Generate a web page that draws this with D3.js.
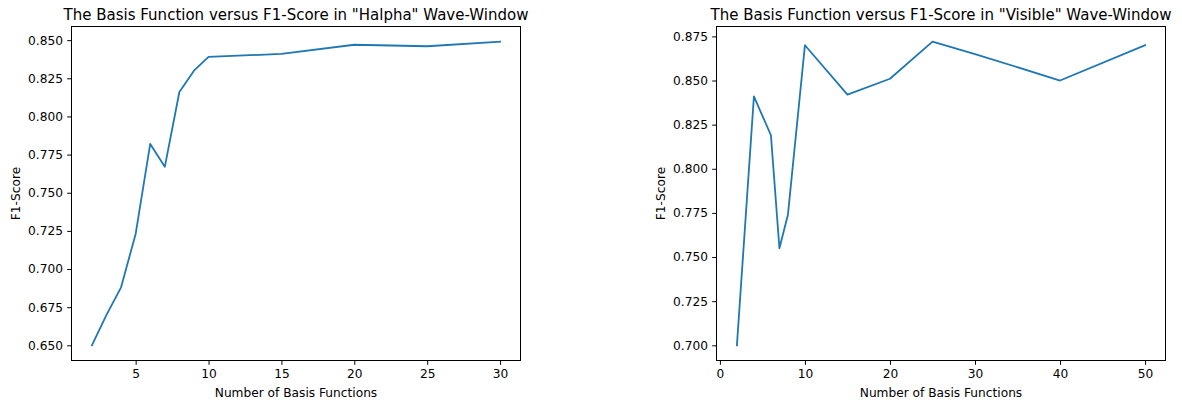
<!DOCTYPE html>
<html>
<head>
<meta charset="utf-8">
<script src="https://cdn.jsdelivr.net/npm/d3@7"></script>
<style>
  html, body { margin: 0; padding: 0; background: #fff; }
  svg { display: block; font-family: "DejaVu Sans", sans-serif; }
</style>
</head>
<body>
<svg id="fig" width="1182" height="400"></svg>
<script>
// Number of basis functions and resulting F1-scores, "Halpha" wave-window
const halphaBasis = [2, 3, 4, 5, 6, 7, 8, 9, 10, 15, 20, 25, 30];
const halphaF1 = [0.650, 0.670, 0.688, 0.723, 0.782, 0.767, 0.816, 0.830, 0.839, 0.841, 0.847, 0.846, 0.849];

// Number of basis functions and resulting F1-scores, "Visible" wave-window
const visibleBasis = [2, 4, 6, 7, 8, 10, 15, 20, 25, 30, 40, 50];
const visibleF1 = [0.700, 0.841, 0.819, 0.755, 0.774, 0.870, 0.842, 0.851, 0.872, 0.865, 0.850, 0.870];

// Tick values
const halphaXTicks = [5, 10, 15, 20, 25, 30];
const halphaYTicks = [0.650, 0.675, 0.700, 0.725, 0.750, 0.775, 0.800, 0.825, 0.850];
const visibleXTicks = [0, 10, 20, 30, 40, 50];
const visibleYTicks = [0.700, 0.725, 0.750, 0.775, 0.800, 0.825, 0.850, 0.875];

const titles = [
  'The Basis Function versus F1-Score in "Halpha" Wave-Window',
  'The Basis Function versus F1-Score in "Visible" Wave-Window'
];
const xLabel = "Number of Basis Functions";
const yLabel = "F1-Score";

const svg = d3.select("#fig");
const lineColor = "#1f77b4";
const tickFont = 12.2;
const titleFont = 15;

// Pad a data extent by 5% on each side
function padded(values) {
  const [lo, hi] = d3.extent(values);
  const m = (hi - lo) * 0.05;
  return [lo - m, hi + m];
}

function panel(box, xs, ys, xTicks, yTicks, title) {
  const x = d3.scaleLinear().domain(padded(xs)).range([box.x0, box.x1]);
  const y = d3.scaleLinear().domain(padded(ys)).range([box.y1, box.y0]);
  const g = svg.append("g");

  const xAxis = d3.axisBottom(x).tickValues(xTicks).tickFormat(d3.format("d"))
    .tickSizeInner(4.3).tickSizeOuter(0).tickPadding(4.3);
  const yAxis = d3.axisLeft(y).tickValues(yTicks).tickFormat(d3.format(".3f"))
    .tickSizeInner(4.3).tickSizeOuter(0).tickPadding(4.3);

  const gx = g.append("g").attr("transform", `translate(0,${box.y1})`).call(xAxis);
  const gy = g.append("g").attr("transform", `translate(${box.x0},0)`).call(yAxis);
  [gx, gy].forEach(a => {
    a.select(".domain").remove();
    a.selectAll("line").attr("stroke", "#000").attr("stroke-width", 1);
    a.selectAll("text").attr("fill", "#000").style("font-size", tickFont + "px")
      .style("font-family", "DejaVu Sans, sans-serif");
  });

  // data line
  const line = d3.line().x((d, i) => x(xs[i])).y(d => y(d));
  g.append("path").datum(ys)
    .attr("fill", "none").attr("stroke", lineColor)
    .attr("stroke-width", 1.8).attr("stroke-linejoin", "round")
    .attr("stroke-linecap", "square")
    .attr("d", line);

  // frame
  g.append("rect")
    .attr("x", box.x0).attr("y", box.y0)
    .attr("width", box.x1 - box.x0).attr("height", box.y1 - box.y0)
    .attr("fill", "none").attr("stroke", "#000").attr("stroke-width", 1);

  const cx = (box.x0 + box.x1) / 2;
  g.append("text").attr("x", cx).attr("y", box.y0 - 7)
    .attr("text-anchor", "middle").style("font-size", titleFont + "px")
    .attr("fill", "#000").text(title);

  g.append("text").attr("x", cx).attr("y", box.y1 + 36)
    .attr("text-anchor", "middle").style("font-size", tickFont + "px")
    .attr("fill", "#000").text(xLabel);

  const cy = (box.y0 + box.y1) / 2;
  g.append("text")
    .attr("transform", `translate(${box.x0 - 52},${cy}) rotate(-90)`)
    .attr("text-anchor", "middle").style("font-size", tickFont + "px")
    .attr("fill", "#000").text(yLabel);
}

panel({ x0: 71.5, x1: 520.5, y0: 26.5, y1: 360.5 }, halphaBasis, halphaF1, halphaXTicks, halphaYTicks, titles[0]);
panel({ x0: 716.5, x1: 1165.5, y0: 26.5, y1: 360.5 }, visibleBasis, visibleF1, visibleXTicks, visibleYTicks, titles[1]);
</script>
</body>
</html>
